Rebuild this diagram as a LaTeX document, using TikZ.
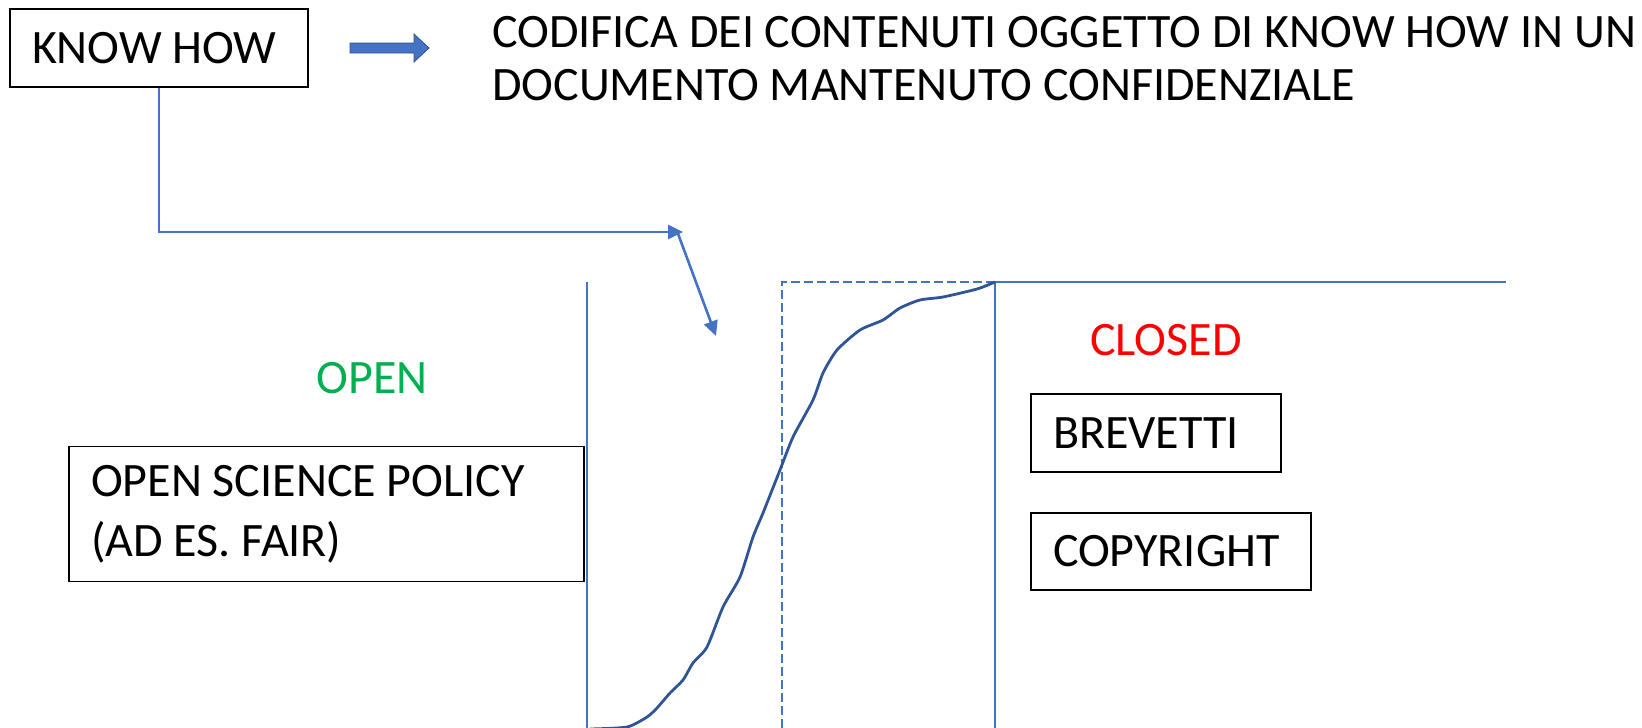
\documentclass[tikz,border=0pt]{standalone}
\usepackage{fontspec}
\setmainfont{Carlito}
\usetikzlibrary{arrows.meta}
\definecolor{linkblue}{HTML}{4472C4}
\definecolor{curveblue}{HTML}{2F5597}
\definecolor{edgeblue}{HTML}{2F528F}
\definecolor{opengreen}{HTML}{00B050}
\tikzset{
  box/.style={draw=black, line width=1.4pt, inner xsep=22pt, inner ysep=0pt, align=flush left},
  label/.style={inner sep=0pt},
  link/.style={linkblue, line width=2.6pt, -{Triangle[length=15pt,width=14pt]}},
  rule/.style={linkblue, line width=1.3pt},
}
\begin{document}
\begin{tikzpicture}[x=1pt, y=-1pt, font=\fontsize{48}{53}\selectfont]
\useasboundingbox (0,0) rectangle (1642,728);

% boxes
\node[box, text width=254pt, minimum height=78pt] (knowhow) at (159,48) {KNOW HOW};
\node[box, text width=471pt, minimum height=135pt, font=\fontsize{48}{60}\selectfont] (openscience) at (326.5,514) {OPEN SCIENCE POLICY\\(AD ES. FAIR)};
\node[box, text width=206pt, minimum height=78pt] (brevetti) at (1156,433) {BREVETTI};
\node[box, text width=236pt, minimum height=77pt] (copyright) at (1171,551.5) {COPYRIGHT};

% labels (base = last line)
\node[label, anchor=base west, align=flush left] (codifica) at (492,100) {CODIFICA DEI CONTENUTI OGGETTO DI KNOW HOW IN UN\\DOCUMENTO MANTENUTO CONFIDENZIALE};
\node[label, anchor=base, text=opengreen] (open) at (372,393) {OPEN};
\node[label, anchor=base, text=red] (closed) at (1166,355) {CLOSED};

% block arrow
\filldraw[fill=linkblue, draw=edgeblue, line width=0.8pt] (350,43) -- (414,43) -- (414,34) -- (429,48) -- (414,62) -- (414,53) -- (350,53) -- cycle;

% connectors
\coordinate (bend) at (683,232);
\coordinate (turn) at (677,231);
\coordinate (dip) at (716,336);
\draw[link] (knowhow.south) |- (bend);
\draw[link] (turn) -- (dip);

% open / closed frame
\draw[rule] (587,282) -- (587,728);
\draw[rule, dash pattern=on 9pt off 4pt] (782,728) -- (782,282) -- (995,282);
\draw[rule] (995,728) -- (995,282) -- (1506,282);

% s-curve
\draw[curveblue, line width=2.8pt, line join=round] plot[smooth, tension=0.4] coordinates {
  (590,729) (627,727) (647,717) (657,708) (670,693) (683,680) (693,663) (707,647)
  (723,607) (740,577) (753,537) (763,513) (780,470) (793,437) (813,400) (823,373)
  (837,350) (860,330) (883,320) (900,308) (920,300) (943,297) (977,289) (995,282)};
\end{tikzpicture}
\end{document}
